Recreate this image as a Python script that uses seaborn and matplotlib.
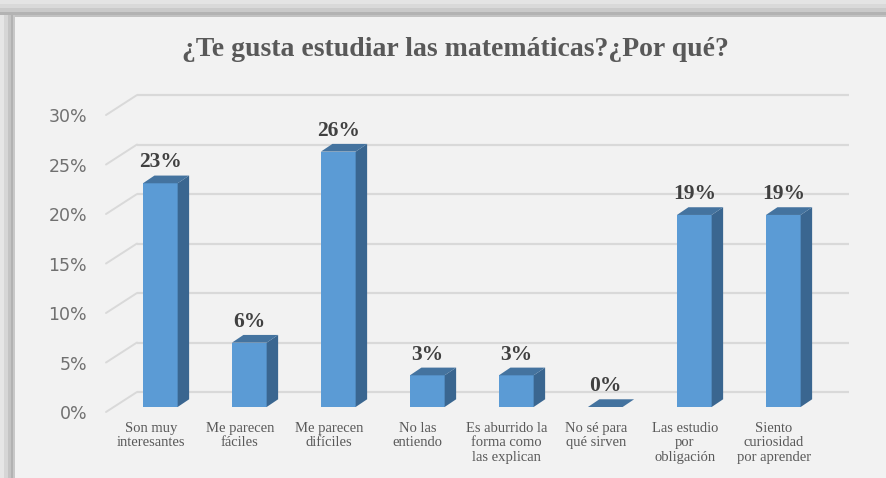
import numpy as np
import pandas as pd
import seaborn as sns
import matplotlib
matplotlib.use("Agg")
import matplotlib.pyplot as plt
from matplotlib.patches import Polygon, Rectangle

# =========================
# DATA
# =========================
categories = [
    "Son muy\ninteresantes",
    "Me parecen\nfáciles",
    "Me parecen\ndifíciles",
    "No las\nentiendo",
    "Es aburrido la\nforma como\nlas explican",
    "No sé para\nqué sirven",
    "Las estudio\npor\nobligación",
    "Siento\ncuriosidad\npor aprender",
]
values = [22.6, 6.5, 25.8, 3.2, 3.2, 0.0, 19.4, 19.4]
ytick_values = [0, 5, 10, 15, 20, 25, 30]
ytick_labels = [f"{v}%" for v in ytick_values]
title = "¿Te gusta estudiar las matemáticas?¿Por qué?"

df = pd.DataFrame({"motivo": categories, "pct": values})

# =========================
# STYLE
# =========================
sns.set_style("white")
plt.rcParams["font.family"] = ["Liberation Serif", "DejaVu Serif"]

BG = "#f2f2f2"
FRONT = "#5b9bd5"
SIDE = "#3a6690"
TOP = "#44739f"
GRID = "#d9d9d9"

W, H = 886, 478
fig = plt.figure(figsize=(W / 100, H / 100), dpi=100, facecolor=BG)

# shadowed frame of the screenshot (top and left bands)
for y0, y1, c in [(0, 4, "#e4e4e4"), (4, 8, "#d9d9d9"), (8, 12, "#cacaca"),
                  (12, 15, "#b3b3b3"), (15, 17, "#c2c2c2")]:
    fig.add_artist(Rectangle((0, 1 - y1 / H), 1, (y1 - y0) / H,
                             transform=fig.transFigure, color=c, lw=0))
for x0, x1, c in [(0, 4, "#e6e6e6"), (4, 8, "#d6d6d6"), (8, 11, "#c4c4c4"),
                  (11, 13, "#b2b2b2"), (13, 15, "#c8c8c8")]:
    fig.add_artist(Rectangle((x0 / W, 0), (x1 - x0) / W, 1 - 15 / H,
                             transform=fig.transFigure, color=c, lw=0))

# axes = front plane of the 3d chart
ax = fig.add_axes([106 / W, 1 - 412 / H, 712 / W, 318 / H])
ax.set_facecolor("none")

XMIN, XMAX = -0.61, 7.39
FRONT_DY = -0.505          # front plane offset of the gridlines
DEPTH_X, DEPTH_Y = 0.348, 2.02   # wall depth
BAR_DX, BAR_DY = 0.129, 0.78     # bar depth

# =========================
# GRIDLINES (back wall + left wall)
# =========================
for v in ytick_values:
    yb = v + FRONT_DY + DEPTH_Y
    ax.plot([XMIN + DEPTH_X, XMAX + DEPTH_X], [yb, yb], color=GRID, lw=1.6,
            zorder=1, clip_on=False, solid_capstyle="butt")
    ax.plot([XMIN, XMIN + DEPTH_X], [v + FRONT_DY, yb], color=GRID, lw=1.4,
            zorder=1, clip_on=False)

# =========================
# BARS
# =========================
sns.barplot(data=df, x="motivo", y="pct", color=FRONT, saturation=1,
            width=0.39, linewidth=0, errorbar=None, ax=ax, zorder=3)

for p, v in zip(ax.patches, values):
    x0 = p.get_x()
    w = p.get_width()
    t = p.get_height()
    x1 = x0 + w
    side = Polygon([(x1, 0), (x1 + BAR_DX, BAR_DY), (x1 + BAR_DX, t + BAR_DY), (x1, t)],
                   closed=True, facecolor=SIDE, lw=0, zorder=3, clip_on=False)
    top = Polygon([(x0, t), (x1, t), (x1 + BAR_DX, t + BAR_DY), (x0 + BAR_DX, t + BAR_DY)],
                  closed=True, facecolor=TOP, lw=0, zorder=3, clip_on=False)
    ax.add_patch(side)
    ax.add_patch(top)
    ax.text(x0 + w / 2, t + 2.1, f"{v:.0f}%", ha="center", va="center",
            fontsize=15.5, fontweight="bold", color="#404040", zorder=4)

# =========================
# AXES / TICKS
# =========================
ax.set_xlim(XMIN, XMAX)
ax.set_ylim(-0.505, 31.62)
ax.set_xticks(np.arange(len(categories)) - 0.107, categories)
ax.set_yticks([v + FRONT_DY for v in ytick_values], ytick_labels)
ax.tick_params(axis="x", length=0, pad=7, labelsize=10.5, labelcolor="#595959")
ax.tick_params(axis="y", length=0, pad=13.5, labelsize=12.5, labelcolor="#707070")
for lab in ax.get_xticklabels():
    lab.set_linespacing(1.15)
for lab in ax.get_yticklabels():
    lab.set_fontfamily("DejaVu Sans")
ax.set_xlabel("")
ax.set_ylabel("")
sns.despine(ax=ax, left=True, bottom=True)

fig.text(455 / W, 1 - 50 / H, title, ha="center", va="center", fontsize=20,
         fontweight="bold", color="#595959")

fig.savefig("out.png", dpi=100, facecolor=fig.get_facecolor())
